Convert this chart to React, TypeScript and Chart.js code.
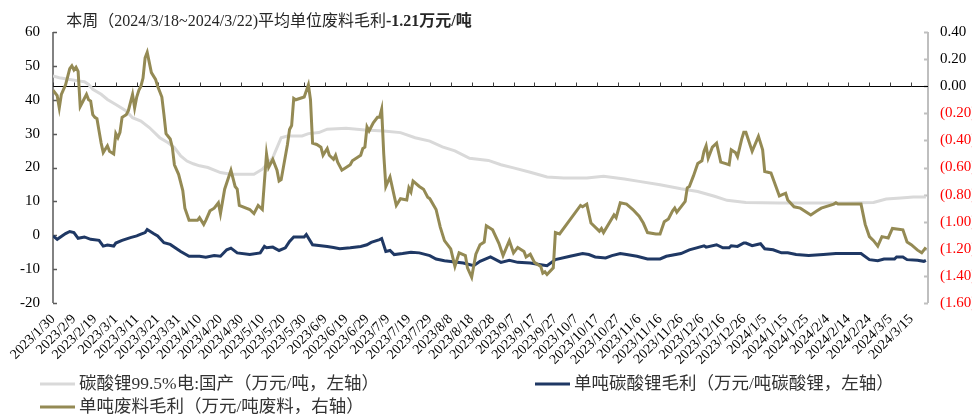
import { useEffect, useRef } from 'react';
import { Chart, registerables } from 'chart.js';

Chart.register(...registerables);

// Tick labels every 10 days (day index 0 = 2023/1/30)
const TICK_LABELS = [
  '2023/1/30', '2023/2/9', '2023/2/19', '2023/3/1', '2023/3/11', '2023/3/21', '2023/3/31',
  '2023/4/10', '2023/4/20', '2023/4/30', '2023/5/10', '2023/5/20', '2023/5/30', '2023/6/9',
  '2023/6/19', '2023/6/29', '2023/7/9', '2023/7/19', '2023/7/29', '2023/8/8', '2023/8/18',
  '2023/8/28', '2023/9/7', '2023/9/17', '2023/9/27', '2023/10/7', '2023/10/17', '2023/10/27',
  '2023/11/6', '2023/11/16', '2023/11/26', '2023/12/6', '2023/12/16', '2023/12/26', '2024/1/5',
  '2024/1/15', '2024/1/25', '2024/2/4', '2024/2/14', '2024/2/24', '2024/3/5', '2024/3/15',
];

const LEGEND_LABELS = [
  '碳酸锂99.5%电:国产（万元/吨，左轴）',
  '单吨碳酸锂毛利（万元/吨碳酸锂，左轴）',
  '单吨废料毛利（万元/吨废料，右轴）',
];

const TITLE_NORMAL = '本周（2024/3/18~2024/3/22)平均单位废料毛利';
const TITLE_BOLD = '-1.21万元/吨';

// [day index, value]
const LITHIUM_PRICE = [
  [0, 47.0], [3, 46.5], [8, 46.0], [13, 45.5], [15, 45.3], [17, 44.5], [19, 43.1], [23, 41.6],
  [26, 40.1], [30, 38.6], [35, 36.7], [38, 34.7], [42, 33.7], [46, 31.8], [51, 28.8], [55, 27.3],
  [58, 25.9], [61, 23.4], [64, 21.9], [67, 21.1], [70, 20.5], [74, 20.0], [80, 18.5], [85, 18.0],
  [96, 18.0], [100, 19.5], [105, 22.9], [109, 28.8], [112, 29.3], [119, 29.3], [122, 30.0],
  [127, 30.3], [131, 31.3], [140, 31.6], [149, 31.1], [158, 30.8], [166, 30.3], [173, 28.8],
  [180, 27.8], [186, 26.1], [192, 24.9], [199, 22.7], [208, 22.1], [214, 20.8], [220, 19.9],
  [228, 18.6], [236, 17.2], [244, 16.9], [255, 16.9], [263, 17.4], [273, 16.6], [280, 15.9],
  [290, 14.9], [300, 13.7], [308, 12.9], [316, 11.5], [322, 10.3], [331, 9.7], [347, 9.5],
  [363, 9.5], [379, 9.5], [392, 9.7], [398, 10.7], [405, 11.0], [411, 11.3], [417, 11.3],
];

const CARBONATE_MARGIN = [
  [0, -0.2], [2, -1.2], [6, 0.5], [8, 1.1], [10, 0.8], [12, -0.9], [15, -0.5], [18, -1.2],
  [22, -1.5], [24, -3.2], [26, -2.9], [29, -3.2], [30, -2.3], [33, -1.5], [37, -0.7], [40, -0.2],
  [42, 0.3], [44, 0.8], [45, 1.7], [48, 0.5], [50, -0.2], [53, -2.2], [56, -2.7], [61, -4.8],
  [65, -6.2], [70, -6.2], [73, -6.5], [77, -6.0], [80, -6.2], [83, -4.3], [85, -3.8], [88, -5.2],
  [94, -5.7], [99, -5.2], [101, -3.3], [102, -3.7], [105, -3.5], [108, -4.5], [111, -3.7],
  [113, -1.8], [115, -0.5], [120, -0.5], [121, 0.2], [124, -2.8], [128, -3.1], [131, -3.3],
  [134, -3.6], [137, -4.0], [142, -3.7], [147, -3.3], [150, -2.8], [152, -2.1], [156, -1.3],
  [157, -1.0], [159, -4.8], [161, -4.5], [163, -5.7], [167, -5.4], [171, -5.0], [175, -5.2],
  [180, -6.0], [183, -7.0], [187, -7.5], [191, -7.8], [196, -8.2], [201, -9.0], [204, -7.7],
  [209, -6.4], [214, -8.0], [218, -7.4], [222, -8.0], [228, -8.2], [233, -8.7], [236, -9.0],
  [240, -7.2], [247, -6.2], [253, -5.4], [256, -5.7], [259, -6.4], [264, -6.7], [267, -6.0],
  [271, -5.4], [274, -5.7], [279, -6.2], [284, -7.0], [290, -7.0], [293, -6.2], [300, -5.4],
  [304, -4.3], [311, -3.1], [312, -3.5], [317, -2.8], [320, -3.7], [323, -3.7], [324, -3.1],
  [327, -3.3], [330, -2.3], [331, -2.3], [334, -3.1], [338, -2.5], [340, -4.0], [344, -4.3],
  [348, -5.2], [351, -5.2], [355, -5.7], [361, -6.0], [368, -5.7], [374, -5.4], [386, -5.4],
  [390, -7.2], [394, -7.5], [397, -7.0], [402, -7.0], [403, -6.4], [406, -6.4], [408, -7.2],
  [413, -7.4], [416, -7.7], [417, -7.4],
];

const SCRAP_MARGIN = [
  [0, -0.03], [2, -0.07], [3, -0.16], [4, -0.06], [6, 0.01], [8, 0.13], [9, 0.15], [10, 0.12],
  [11, 0.14], [12, 0.11], [13, -0.15], [14, -0.12], [16, -0.06], [17, -0.10], [18, -0.11],
  [19, -0.21], [20, -0.23], [21, -0.24], [22, -0.33], [23, -0.42], [24, -0.49], [26, -0.44],
  [27, -0.48], [29, -0.50], [30, -0.35], [31, -0.38], [32, -0.34], [33, -0.23], [35, -0.21],
  [36, -0.18], [38, -0.06], [39, -0.16], [40, -0.08], [41, -0.03], [42, 0.00], [43, 0.06],
  [44, 0.21], [45, 0.25], [47, 0.10], [49, 0.05], [50, 0.00], [52, -0.08], [53, -0.21],
  [54, -0.35], [56, -0.39], [57, -0.45], [58, -0.58], [60, -0.65], [62, -0.77], [63, -0.90],
  [65, -0.99], [66, -0.99], [69, -0.99], [70, -0.97], [72, -1.02], [73, -0.99], [75, -0.92],
  [77, -0.90], [79, -0.86], [80, -0.94], [82, -0.76], [85, -0.62], [87, -0.74], [88, -0.76],
  [89, -0.88], [94, -0.91], [96, -0.94], [98, -0.88], [100, -0.91], [102, -0.50], [103, -0.60],
  [105, -0.54], [107, -0.62], [108, -0.70], [109, -0.69], [112, -0.43], [113, -0.32],
  [114, -0.29], [115, -0.09], [116, -0.10], [120, -0.08], [122, 0.01], [123, -0.10],
  [124, -0.42], [126, -0.43], [128, -0.45], [129, -0.51], [131, -0.46], [132, -0.51],
  [134, -0.54], [135, -0.51], [136, -0.56], [138, -0.62], [140, -0.60], [142, -0.58],
  [143, -0.55], [147, -0.51], [148, -0.46], [149, -0.45], [150, -0.30], [151, -0.33],
  [153, -0.27], [155, -0.23], [156, -0.23], [157, -0.17], [158, -0.50], [159, -0.74],
  [161, -0.67], [163, -0.81], [164, -0.88], [166, -0.83], [169, -0.84], [170, -0.75],
  [171, -0.78], [172, -0.70], [175, -0.74], [177, -0.76], [179, -0.82], [180, -0.83],
  [183, -0.91], [185, -1.04], [187, -1.14], [190, -1.20], [192, -1.33], [194, -1.23],
  [197, -1.25], [198, -1.34], [200, -1.41], [202, -1.24], [204, -1.17], [206, -1.15],
  [207, -1.03], [210, -1.06], [213, -1.16], [215, -1.25], [218, -1.14], [220, -1.23],
  [222, -1.19], [225, -1.22], [226, -1.26], [228, -1.24], [230, -1.30], [233, -1.33],
  [234, -1.38], [235, -1.37], [236, -1.39], [239, -1.34], [240, -1.08], [242, -1.09],
  [252, -0.88], [253, -0.89], [255, -0.87], [257, -1.01], [261, -1.07], [262, -1.05],
  [263, -1.08], [268, -0.95], [269, -0.97], [271, -0.86], [274, -0.87], [277, -0.91],
  [280, -0.96], [282, -1.01], [284, -1.08], [288, -1.09], [290, -1.09], [292, -1.00],
  [294, -0.98], [296, -0.92], [297, -0.90], [298, -0.93], [300, -0.89], [302, -0.85],
  [303, -0.75], [304, -0.74], [306, -0.66], [308, -0.57], [310, -0.55], [311, -0.48],
  [312, -0.44], [313, -0.53], [315, -0.45], [317, -0.42], [319, -0.56], [321, -0.57],
  [323, -0.58], [324, -0.47], [326, -0.49], [327, -0.52], [329, -0.39], [330, -0.34],
  [331, -0.34], [334, -0.48], [337, -0.37], [339, -0.47], [340, -0.63], [343, -0.64],
  [347, -0.81], [350, -0.79], [351, -0.84], [354, -0.89], [357, -0.90], [362, -0.95],
  [365, -0.92], [367, -0.90], [373, -0.87], [374, -0.86], [375, -0.87], [386, -0.87],
  [388, -1.02], [390, -1.11], [392, -1.14], [394, -1.18], [396, -1.11], [399, -1.12],
  [401, -1.05], [406, -1.06], [408, -1.15], [410, -1.17], [413, -1.21], [415, -1.23],
  [416, -1.21], [417, -1.19],
];

const COLORS = ['#d9d9d9', '#1f3864', '#948a54'];
const FONT = "'Liberation Serif', 'Noto Sans CJK SC', serif";

const toXY = (arr: number[][]) => arr.map(([x, y]) => ({ x, y }));

const overlayPlugin = {
  id: 'overlay',
  beforeDatasetsDraw(chart: any) {
    const { ctx, chartArea: a, scales } = chart;
    const ys = scales.y;
    const y2 = scales.y2;
    const xs = scales.x;
    ctx.save();
    // left axis
    ctx.strokeStyle = '#595959';
    ctx.lineWidth = 1.5;
    ctx.beginPath();
    ctx.moveTo(a.left, a.top);
    ctx.lineTo(a.left, a.bottom);
    ys.ticks.forEach((t: any) => {
      const py = Math.round(ys.getPixelForValue(t.value)) + 0.5;
      ctx.moveTo(a.left, py);
      ctx.lineTo(a.left + 4, py);
    });
    ctx.stroke();
    // right axis
    ctx.strokeStyle = '#bfbfbf';
    ctx.lineWidth = 2;
    ctx.beginPath();
    ctx.moveTo(a.right, a.top);
    ctx.lineTo(a.right, a.bottom);
    y2.ticks.forEach((t: any) => {
      const py = Math.round(y2.getPixelForValue(t.value)) + 0.5;
      ctx.moveTo(a.right, py);
      ctx.lineTo(a.right - 4, py);
    });
    ctx.stroke();
    // category axis crossing at right-axis zero
    const zy = Math.round(y2.getPixelForValue(0)) + 0.5;
    ctx.strokeStyle = '#000';
    ctx.lineWidth = 1.2;
    ctx.beginPath();
    ctx.moveTo(a.left, zy);
    ctx.lineTo(a.right, zy);
    ctx.stroke();
    ctx.strokeStyle = '#404040';
    ctx.lineWidth = 1;
    ctx.beginPath();
    xs.ticks.forEach((t: any) => {
      const px = Math.round(xs.getPixelForValue(t.value)) + 0.5;
      ctx.moveTo(px, zy);
      ctx.lineTo(px, zy - 4);
    });
    ctx.stroke();
    ctx.restore();
  },
  afterDraw(chart: any) {
    const { ctx } = chart;
    ctx.save();
    // title
    ctx.textBaseline = 'middle';
    ctx.fillStyle = '#262626';
    ctx.font = `16px ${FONT}`;
    const w1 = ctx.measureText(TITLE_NORMAL).width;
    ctx.font = `bold 16px ${FONT}`;
    const w2 = ctx.measureText(TITLE_BOLD).width;
    const start = 269 - (w1 + w2) / 2;
    ctx.font = `16px ${FONT}`;
    ctx.textAlign = 'left';
    ctx.fillText(TITLE_NORMAL, start, 22);
    ctx.font = `bold 16px ${FONT}`;
    ctx.fillText(TITLE_BOLD, start + w1, 22);
    // legend
    const items = [
      { x: 40, y: 384, c: COLORS[0], t: LEGEND_LABELS[0] },
      { x: 535, y: 384, c: COLORS[1], t: LEGEND_LABELS[1] },
      { x: 40, y: 407, c: COLORS[2], t: LEGEND_LABELS[2] },
    ];
    ctx.font = `17.5px ${FONT}`;
    items.forEach((it) => {
      ctx.strokeStyle = it.c;
      ctx.lineWidth = 3;
      ctx.beginPath();
      ctx.moveTo(it.x, it.y);
      ctx.lineTo(it.x + 35, it.y);
      ctx.stroke();
      ctx.fillStyle = '#333';
      ctx.fillText(it.t, it.x + 39, it.y);
    });
    ctx.restore();
  },
};

export default function App() {
  const ref = useRef<HTMLCanvasElement>(null);

  useEffect(() => {
    if (!ref.current) return;
    const chart = new Chart(ref.current, {
      type: 'line',
      data: {
        datasets: [
          {
            label: LEGEND_LABELS[2],
            data: toXY(SCRAP_MARGIN),
            borderColor: COLORS[2],
            backgroundColor: COLORS[2],
            borderWidth: 3,
            pointRadius: 0,
            tension: 0,
            yAxisID: 'y2',
            order: 0,
          },
          {
            label: LEGEND_LABELS[1],
            data: toXY(CARBONATE_MARGIN),
            borderColor: COLORS[1],
            backgroundColor: COLORS[1],
            borderWidth: 3,
            pointRadius: 0,
            tension: 0,
            yAxisID: 'y',
            order: 1,
          },
          {
            label: LEGEND_LABELS[0],
            data: toXY(LITHIUM_PRICE),
            borderColor: COLORS[0],
            backgroundColor: COLORS[0],
            borderWidth: 3,
            pointRadius: 0,
            tension: 0,
            yAxisID: 'y',
            order: 2,
          },
        ],
      },
      options: {
        animation: false,
        responsive: true,
        maintainAspectRatio: false,
        layout: { padding: { top: 32, left: 0, right: 0, bottom: 0 } },
        plugins: {
          legend: { display: false },
          title: { display: false },
          tooltip: { enabled: false },
        },
        scales: {
          x: {
            type: 'linear',
            min: 0,
            max: 418,
            grid: { display: false, drawTicks: false },
            border: { display: false },
            ticks: {
              stepSize: 10,
              autoSkip: false,
              includeBounds: false,
              minRotation: 45,
              maxRotation: 45,
              padding: 8,
              color: '#000',
              font: { family: FONT, size: 14 },
              callback: (v: any) => {
                const i = Math.round(Number(v) / 10);
                return Number(v) % 10 === 0 && TICK_LABELS[i] ? TICK_LABELS[i] : '';
              },
            },
            afterFit: (s: any) => {
              s.height = 111;
            },
          },
          y: {
            position: 'left',
            min: -20,
            max: 60,
            grid: { display: false, drawTicks: false },
            border: { display: false },
            ticks: {
              stepSize: 10,
              padding: 13,
              color: '#000',
              font: { family: FONT, size: 15 },
            },
            afterFit: (s: any) => {
              s.width = 53;
            },
          },
          y2: {
            position: 'right',
            min: -1.6,
            max: 0.4,
            grid: { display: false, drawTicks: false },
            border: { display: false },
            ticks: {
              stepSize: 0.2,
              padding: 12,
              font: { family: FONT, size: 15 },
              color: (c: any) => (c.tick && c.tick.value < -1e-9 ? '#ff0000' : '#000'),
              callback: (v: any) => {
                const n = Number(v);
                if (n < -1e-9) return '(' + Math.abs(n).toFixed(2) + ')';
                return Math.abs(n).toFixed(2);
              },
            },
            afterFit: (s: any) => {
              s.width = 44;
            },
          },
        },
      },
      plugins: [overlayPlugin],
    });
    return () => chart.destroy();
  }, []);

  return (
    <div style={{ position: 'absolute', left: 0, top: 0, width: 972, height: 414, background: '#fff' }}>
      <canvas ref={ref} />
    </div>
  );
}
